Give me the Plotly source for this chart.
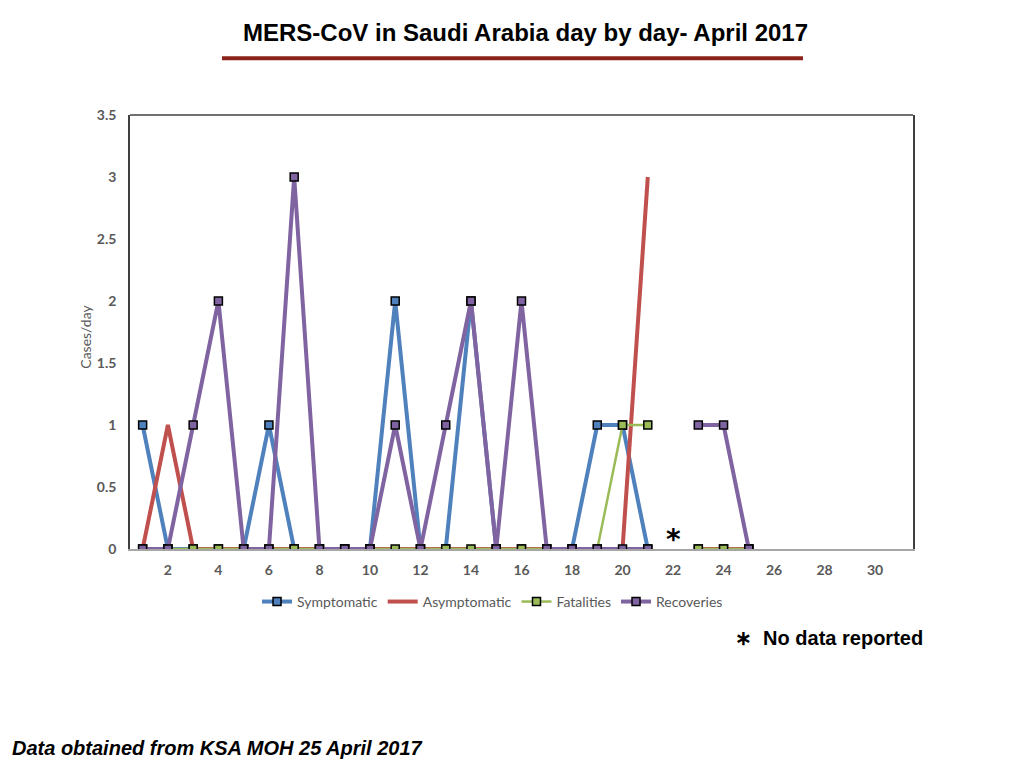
import plotly.graph_objects as go

days = list(range(1, 26))

# day 22: no data reported
symptomatic = [1, 0, 0, 0, 0, 1, 0, 0, 0, 0, 2, 0, 0, 2, 0, 0, 0, 0, 1, 1, 0, None, 0, 0, 0]
asymptomatic = [0, 1, 0, 0, 0, 0, 0, 0, 0, 0, 0, 0, 0, 0, 0, 0, 0, 0, 0, 0, 3, None, 0, 0, 0]
fatalities = [0, 0, 0, 0, 0, 0, 0, 0, 0, 0, 0, 0, 0, 0, 0, 0, 0, 0, 0, 1, 1, None, 0, 0, 0]
recoveries = [0, 0, 1, 2, 0, 0, 3, 0, 0, 0, 1, 0, 1, 2, 0, 2, 0, 0, 0, 0, 0, None, 1, 1, 0]

x_ticks = list(range(2, 31, 2))

series = [
    ("Symptomatic", symptomatic, "#4F81BD", 4, True),
    ("Asymptomatic", asymptomatic, "#C0504D", 4, False),
    ("Fatalities", fatalities, "#9BBB59", 2.5, True),
    ("Recoveries", recoveries, "#8064A2", 4, True),
]

fig = go.Figure()
for name, vals, color, width, show_marker in series:
    fig.add_trace(
        go.Scatter(
            x=days,
            y=vals,
            name=name,
            mode="lines+markers" if show_marker else "lines",
            line=dict(color=color, width=width),
            marker=dict(symbol="square", size=8, color=color,
                        line=dict(color="black", width=1.5)),
            connectgaps=False,
        )
    )

font_main = "Lato, 'Open Sans', sans-serif"
font_title = "'Liberation Sans', Arial, sans-serif"

# page body has an 8px margin, so the figure is sized to 1008x752
fig.update_layout(
    width=1008,
    height=752,
    margin=dict(l=122, r=103, t=107, b=211),
    paper_bgcolor="white",
    plot_bgcolor="white",
    showlegend=True,
    legend=dict(
        orientation="h",
        x=0.463,
        xanchor="center",
        y=-0.122,
        yanchor="middle",
        font=dict(family=font_main, size=14, color="#595959"),
        itemwidth=30,
    ),
    xaxis=dict(
        range=[0.5, 31.5],
        tickvals=x_ticks,
        showgrid=False,
        zeroline=False,
        showline=True,
        linecolor="#A6A6A6",
        linewidth=2,
        ticks="",
        ticklabelstandoff=7,
        tickfont=dict(family=font_main, size=14, color="#595959", weight="bold"),
    ),
    yaxis=dict(
        range=[0, 3.5],
        dtick=0.5,
        showgrid=False,
        zeroline=False,
        showline=True,
        mirror=True,
        linecolor="#404040",
        linewidth=1.5,
        ticks="",
        ticklabelstandoff=9,
        tickfont=dict(family=font_main, size=14, color="#595959", weight="bold"),
    ),
    shapes=[
        dict(type="line", xref="paper", yref="paper", x0=0, x1=1, y0=1, y1=1,
             line=dict(color="#404040", width=1.5)),
        dict(type="line", xref="paper", yref="paper", x0=0.1175, x1=0.8595,
             y0=1.131, y1=1.131, line=dict(color="#8B231D", width=4)),
    ],
    annotations=[
        dict(text="<b>MERS-CoV in Saudi Arabia day by day- April 2017</b>",
             xref="paper", yref="paper", x=0.5045, y=1.191, showarrow=False,
             xanchor="center", yanchor="middle",
             font=dict(family=font_title, size=24, color="black")),
        dict(text="Cases/day", xref="paper", yref="paper", x=-0.057, y=0.49,
             textangle=-90, showarrow=False, xanchor="center", yanchor="middle",
             font=dict(family=font_main, size=14, color="#595959")),
        dict(text="<b>*</b>", x=22, y=0.08, xref="x", yref="y", showarrow=False,
             font=dict(family="DejaVu Sans", size=28, color="black")),
        dict(text="<b>\u2217  No data reported</b>",
             xref="paper", yref="paper",
             x=1.015, y=-0.205, xanchor="right", yanchor="middle", showarrow=False,
             font=dict(family=font_title, size=20, color="black")),
        dict(text="<b><i>Data obtained from KSA MOH 25 April 2017</i></b>",
             xref="paper", yref="paper", x=-0.153, y=-0.4585,
             xanchor="left", yanchor="middle", showarrow=False,
             font=dict(family=font_title, size=20, color="black")),
    ],
)

fig.write_html("out.html")
